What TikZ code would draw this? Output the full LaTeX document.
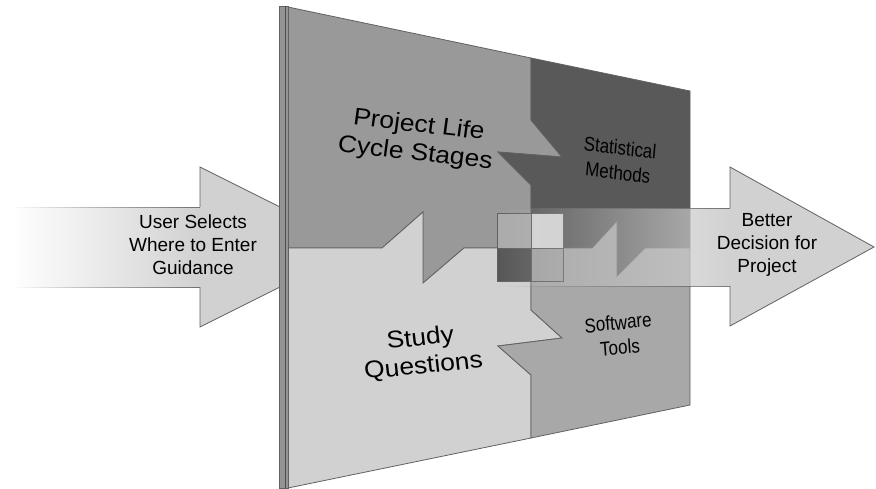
\documentclass[tikz,border=0pt]{standalone}
\usepackage{fontspec}
\setmainfont{Liberation Sans}
\usepackage{tikz}
\usepackage{xcolor}
\usetikzlibrary{fadings}

\definecolor{lifegray}{gray}{0.6}
\definecolor{studygray}{gray}{0.82}
\definecolor{statgray}{gray}{0.35}
\definecolor{softgray}{gray}{0.66}
\definecolor{edgegray}{gray}{0.38}
\definecolor{arrowgray}{gray}{0.82}
\definecolor{shaftgray}{gray}{0.79}

\tikzfading[name=fromleft, left color=transparent!100, right color=transparent!15]

\begin{document}
\begin{tikzpicture}[x=1pt, y=-1pt,
    edge/.style={draw=edgegray, line width=0.8pt, line join=miter},
    bigtext/.style={align=center, font=\fontsize{24}{28}\selectfont, xscale=1.1},
    smalltext/.style={align=center, font=\fontsize{20}{25}\selectfont, xscale=0.85},
    arrowtext/.style={align=center, font=\fontsize{19}{23}\selectfont}]
        \useasboundingbox (0,0) rectangle (876,488);

        % entry arrow, tip runs behind the board
        \fill[arrowgray] (200,167) -- (360,247) -- (200,327) -- cycle;
        \shade[left color=white, right color=arrowgray] (12,207) rectangle (200,287);
        \draw[edge, path fading=fromleft] (12,207) -- (200,207)
            (12,287) -- (200,287);
        \draw[edge] (200,207) -- (200,167) -- (360,247) -- (200,327) -- (200,287);

        % the four panels of the board
        \draw[edge, fill=lifegray] (288,7) -- (531,58) -- (531,120) -- (562,157)
            -- (498,152) -- (531,185) -- (531,248) -- (464,248) -- (423,283)
            -- (423,212) -- (382,248) -- (288,248) -- cycle;
        \draw[edge, fill=statgray] (531,58) -- (690,91) -- (690,248) -- (645,248)
            -- (617,276) -- (617,221) -- (592,248) -- (531,248) -- (531,185)
            -- (498,152) -- (562,157) -- (531,120) -- cycle;
        \draw[edge, fill=studygray] (288,248) -- (382,248) -- (423,212) -- (423,283)
            -- (464,248) -- (531,248) -- (531,310) -- (562,338) -- (498,346)
            -- (531,375) -- (531,438) -- (288,488) -- cycle;
        \draw[edge, fill=softgray] (531,248) -- (592,248) -- (617,221) -- (617,276)
            -- (645,248) -- (690,248) -- (690,405) -- (531,438) -- (531,375)
            -- (498,346) -- (562,338) -- (531,310) -- cycle;

        % edge of the board
        \draw[edge, fill=black!42] (279,6) rectangle (288,488);
        \draw[draw=black!70, line width=1.6pt] (285.5,6) -- (285.5,488);

        % small squares where the panels meet
        \draw[edge, fill=black!33] (497,213) rectangle (531,248);
        \draw[edge, fill=black!16] (531,213) rectangle (563,248);
        \draw[edge, fill=black!66] (497,248) rectangle (531,281);
        \draw[edge, fill=black!36] (531,248) rectangle (563,281);

        % result arrow
        \fill[shaftgray, path fading=fromleft] (497,208) rectangle (730.4,286);
        \draw[edge, path fading=fromleft] (497,208) -- (730,208)
            (497,286) -- (730,286);
        \draw[edge, fill=arrowgray] (730,208) -- (730,167) -- (874,247)
            -- (730,326) -- (730,286);

        % labels
        \node[bigtext, rotate=-7] (life) at (417,140) {Project Life\\Cycle Stages};
        \node[bigtext, rotate=6] (study) at (422,353) {Study\\Questions};
        \node[smalltext, rotate=-6] (stats) at (619,160) {Statistical\\Methods};
        \node[smalltext, rotate=5] (tools) at (619,335) {Software\\Tools};
        \node[arrowtext] (enter) at (193,245) {User Selects\\Where to Enter\\Guidance};
        \node[arrowtext] (result) at (767,245) {Better\\Decision for\\Project};
    \end{tikzpicture}
\end{document}
